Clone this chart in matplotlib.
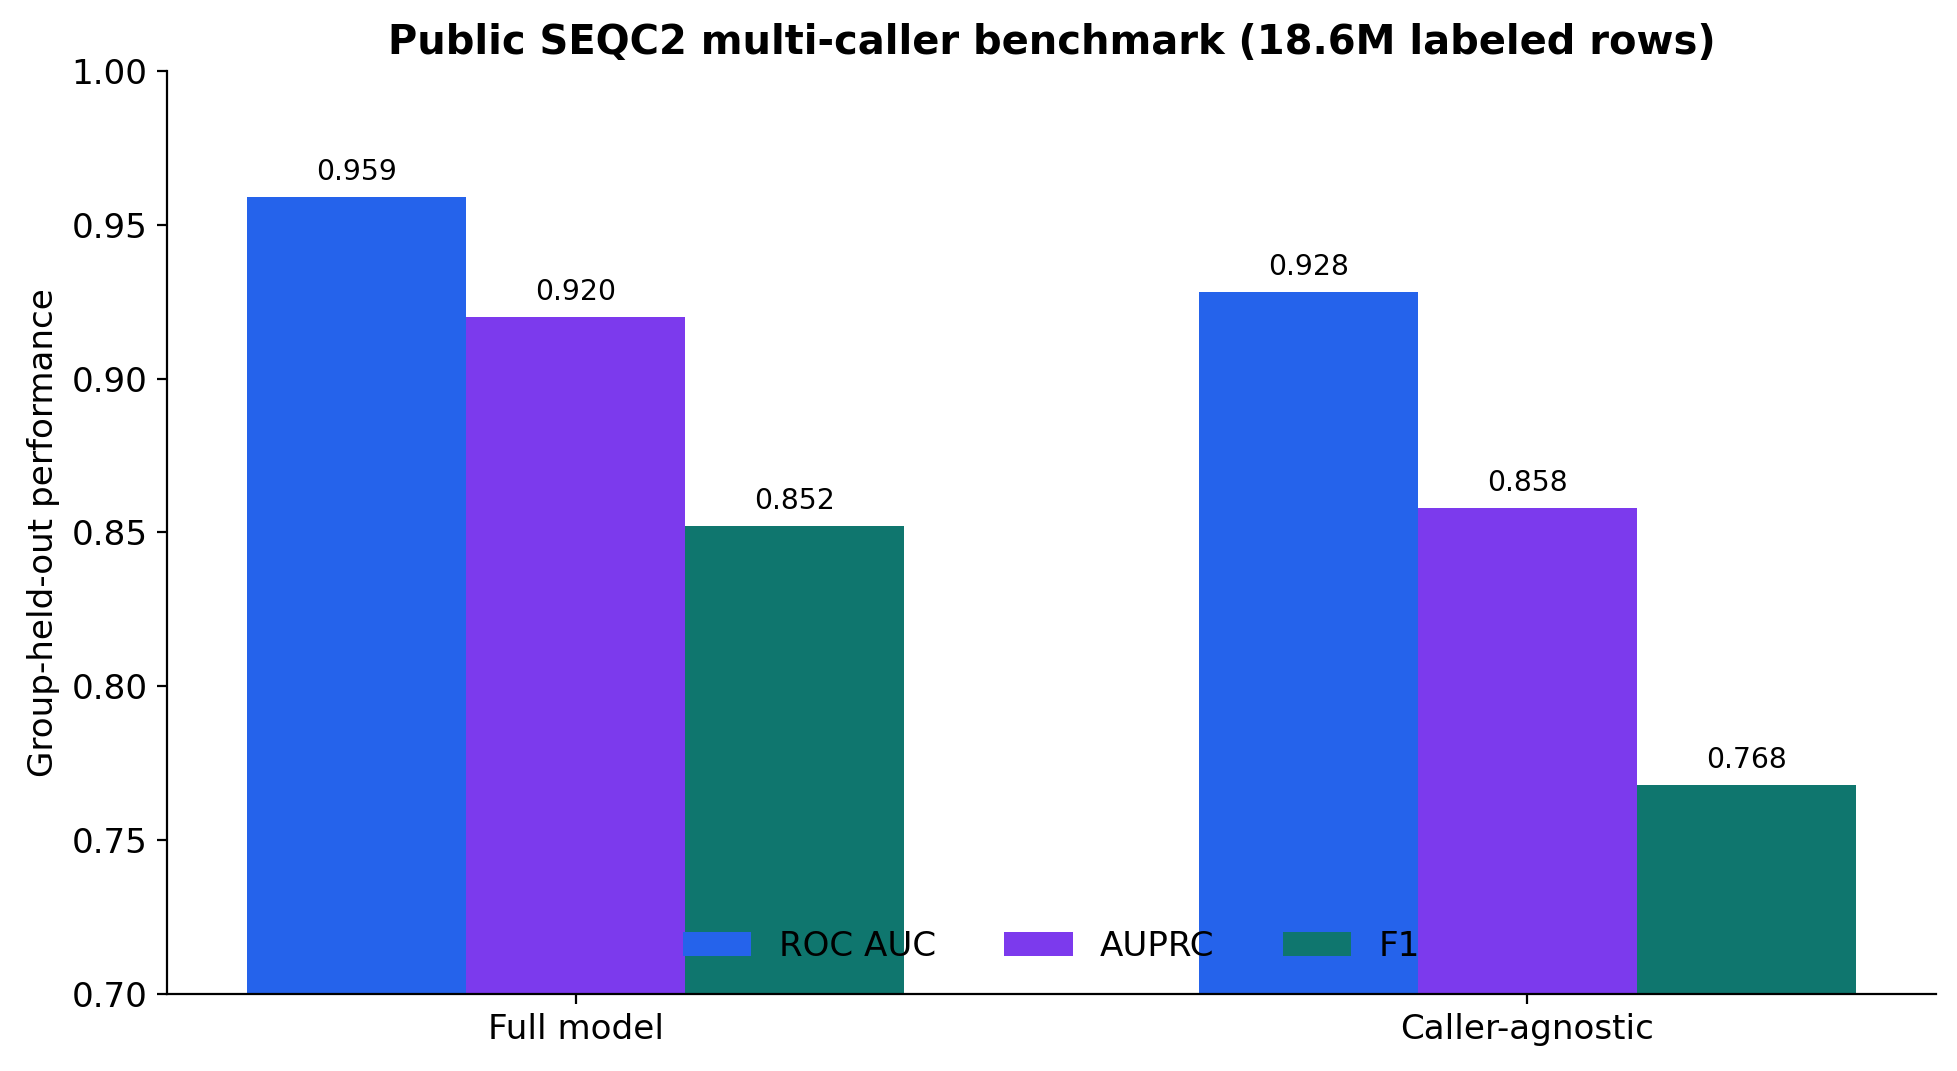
import numpy as np
import matplotlib
matplotlib.use("Agg")
import matplotlib.pyplot as plt

groups = ["Full model", "Caller-agnostic"]
metrics = ["ROC AUC", "AUPRC", "F1"]
roc_auc = [0.959, 0.928]
auprc = [0.920, 0.858]
f1 = [0.852, 0.768]
colors = ["#2563eb", "#7c3aed", "#0f766e"]

fig = plt.figure(figsize=(9.785, 5.355), dpi=200)
ax = fig.add_axes([0.0853, 0.072, 0.904, 0.8617])

x = np.arange(len(groups))
w = 0.23
for i, (name, vals) in enumerate(zip(metrics, [roc_auc, auprc, f1])):
    bars = ax.bar(x + (i - 1) * w, vals, width=w, color=colors[i], label=name)
    for b, v in zip(bars, vals):
        ax.annotate(f"{v:.3f}", (b.get_x() + b.get_width() / 2, v),
                    xytext=(0, 4), textcoords="offset points",
                    ha="center", va="bottom", fontsize=10.2)

ax.set_xticks(x)
ax.set_xticklabels(groups, fontsize=12.3)
ax.set_ylim(0.70, 1.00)
ax.tick_params(axis="y", labelsize=12.3)
ax.set_ylabel("Group-held-out performance", fontsize=12.3)
ax.set_title("Public SEQC2 multi-caller benchmark (18.6M labeled rows)",
             fontsize=14.4, fontweight="bold")
ax.spines["top"].set_visible(False)
ax.spines["right"].set_visible(False)
ax.legend(loc="lower center", ncol=3, frameon=False, fontsize=12.3)

fig.savefig("out.png", dpi=200)
